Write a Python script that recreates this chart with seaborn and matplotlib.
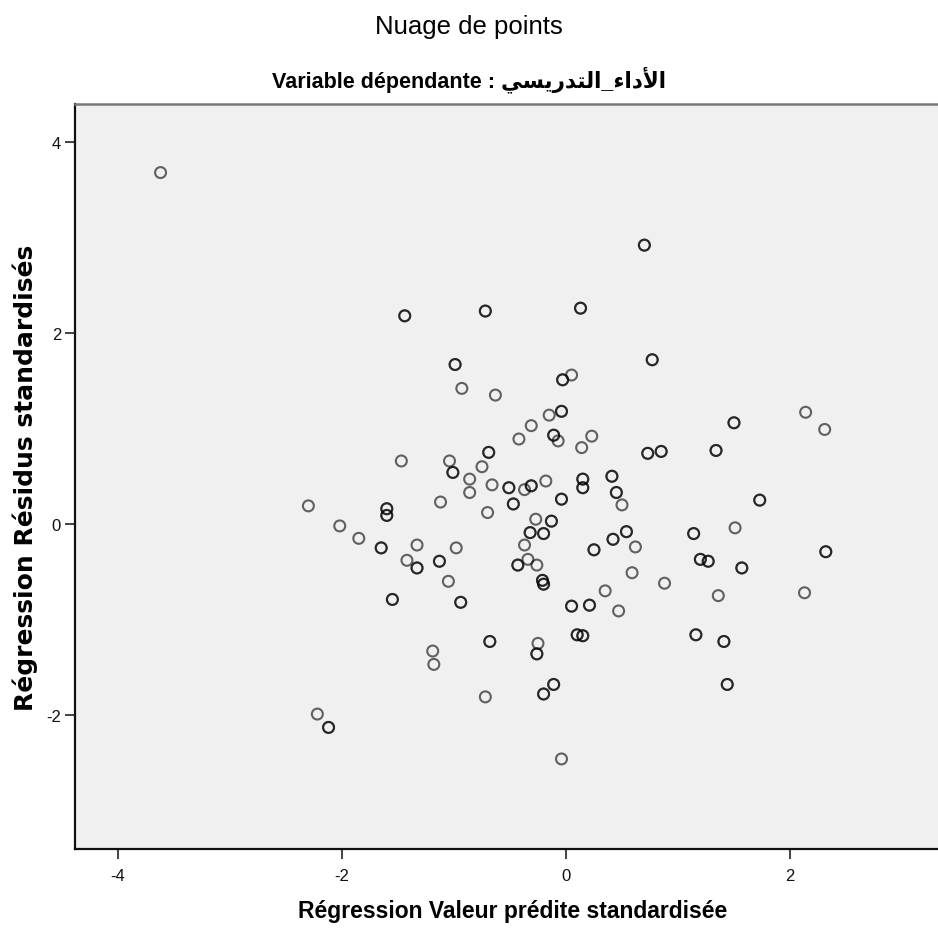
import matplotlib
matplotlib.use("Agg")
import matplotlib.pyplot as plt
import seaborn as sns
import numpy as np
import pandas as pd

# Valeurs (SPSS). "overlap" = 2 quand le cercle est plus foncé (points superposés)
pred_std = [-3.62, 0.70, -1.44, -0.72, 0.13, 0.77, -0.99, -0.93, -0.63, -0.03,
            0.05, -0.04, -0.15, -0.31, -0.42, -0.11, -0.07, 0.14, 0.23, 0.73,
            0.85, 1.50, 2.14, 2.31, 1.34, -1.47, -1.04, -1.01, -0.69, -0.75,
            -0.86, -0.86, -0.66, -0.51, -0.37, -0.31, -0.18, -0.47, -0.04, 0.15,
            0.15, 0.41, 0.45, 0.50, 1.73, -2.30, -1.60, -1.60, -1.12, -0.70,
            -2.02, -1.85, -1.65, -1.33, -1.42, -1.33, -1.13, -0.98, -1.05, -0.27,
            -0.13, -0.32, -0.20, -0.37, -0.34, -0.43, -0.26, -0.21, -0.20, -1.55,
            -0.94, 0.05, 0.54, 0.42, 0.25, 0.62, 0.59, 0.88, 0.35, 0.21,
            0.47, 1.14, 1.51, 1.20, 1.27, 1.57, 2.32, 1.36, 2.13, -0.68,
            -1.19, -1.18, -0.25, -0.26, 0.10, 0.15, -0.11, -0.20, -0.72, -2.22,
            -2.12, -0.04, 1.16, 1.41, 1.44]
resid_std = [3.68, 2.92, 2.18, 2.23, 2.26, 1.72, 1.67, 1.42, 1.35, 1.51,
             1.56, 1.18, 1.14, 1.03, 0.89, 0.93, 0.87, 0.80, 0.92, 0.74,
             0.76, 1.06, 1.17, 0.99, 0.77, 0.66, 0.66, 0.54, 0.75, 0.60,
             0.47, 0.33, 0.41, 0.38, 0.36, 0.40, 0.45, 0.21, 0.26, 0.47,
             0.38, 0.50, 0.33, 0.20, 0.25, 0.19, 0.16, 0.09, 0.23, 0.12,
             -0.02, -0.15, -0.25, -0.22, -0.38, -0.46, -0.39, -0.25, -0.60, 0.05,
             0.03, -0.09, -0.10, -0.22, -0.37, -0.43, -0.43, -0.59, -0.63, -0.79,
             -0.82, -0.86, -0.08, -0.16, -0.27, -0.24, -0.51, -0.62, -0.70, -0.85,
             -0.91, -0.10, -0.04, -0.37, -0.39, -0.46, -0.29, -0.75, -0.72, -1.23,
             -1.33, -1.47, -1.25, -1.36, -1.16, -1.17, -1.68, -1.78, -1.81, -1.99,
             -2.13, -2.46, -1.16, -1.23, -1.68]
overlap = [1, 2, 2, 2, 2, 2, 2, 1, 1, 2,
           1, 2, 1, 1, 1, 2, 1, 1, 1, 2,
           2, 2, 1, 1, 2, 1, 1, 2, 2, 1,
           1, 1, 1, 2, 1, 2, 1, 2, 2, 2,
           2, 2, 2, 1, 2, 1, 2, 2, 1, 1,
           1, 1, 2, 1, 1, 2, 2, 1, 1, 1,
           2, 2, 2, 1, 1, 2, 1, 2, 2, 2,
           2, 2, 2, 2, 2, 1, 1, 1, 1, 2,
           1, 2, 1, 2, 2, 2, 2, 1, 1, 2,
           1, 1, 1, 2, 2, 2, 2, 2, 1, 1,
           2, 1, 2, 2, 2]

x_ticks = [-4, -2, 0, 2]
y_ticks = [-2, 0, 2, 4]

title = "Nuage de points"
dep_prefix = "Variable dépendante : "
dep_var = "الأداء_التدريسي"
x_label = "Régression Valeur prédite standardisée"
y_label = "Régression Résidus standardisés"

# formes contextuelles (isolée, finale, initiale, médiane) pour les lettres utilisées
FORMS = {
    'ا': ('\uFE8D', '\uFE8E', None, None),
    'أ': ('\uFE83', '\uFE84', None, None),
    'د': ('\uFEA9', '\uFEAA', None, None),
    'ر': ('\uFEAD', '\uFEAE', None, None),
    'ء': ('\uFE80', None, None, None),
    'ل': ('\uFEDD', '\uFEDE', '\uFEDF', '\uFEE0'),
    'ت': ('\uFE95', '\uFE96', '\uFE97', '\uFE98'),
    'ي': ('\uFEF1', '\uFEF2', '\uFEF3', '\uFEF4'),
    'س': ('\uFEB1', '\uFEB2', '\uFEB3', '\uFEB4'),
}
LAM_ALEF = {'ا': ('\uFEFB', '\uFEFC', None, None), 'أ': ('\uFEF7', '\uFEF8', None, None)}


def shape_arabic(text):
    # matplotlib ne fait ni la liaison ni le sens droite-gauche
    tokens = []
    i = 0
    while i < len(text):
        ch = text[i]
        if ch == 'ل' and i + 1 < len(text) and text[i + 1] in LAM_ALEF:
            tokens.append(LAM_ALEF[text[i + 1]])
            i += 2
            continue
        tokens.append(FORMS.get(ch, (ch, None, None, None)))
        i += 1
    out = []
    for k, f in enumerate(tokens):
        prev = tokens[k - 1] if k > 0 else None
        nxt = tokens[k + 1] if k + 1 < len(tokens) else None
        jp = prev is not None and prev[2] is not None and f[1] is not None
        jn = nxt is not None and f[2] is not None and nxt[1] is not None
        if jp and jn:
            out.append(f[3])
        elif jp:
            out.append(f[1])
        elif jn:
            out.append(f[2])
        else:
            out.append(f[0])
    return ''.join(reversed(out))


df = pd.DataFrame({'pred': pred_std, 'resid': resid_std, 'n': overlap})
df = df.loc[df.index.repeat(df['n'])]

sns.set_style("white")
plt.rcParams['font.family'] = ['Liberation Sans', 'DejaVu Sans']
plt.rcParams['axes.unicode_minus'] = False
plt.rcParams['text.color'] = 'black'
plt.rcParams['axes.labelcolor'] = 'black'

fig = plt.figure(figsize=(9.38, 9.45), dpi=100)
ax = fig.add_axes([75 / 938, 95 / 945, 875 / 938, 745 / 945])
ax.set_facecolor('#f0f0f0')

sns.scatterplot(data=df, x='pred', y='resid', ax=ax, marker='o', s=62,
                facecolor='none', edgecolor='black', linewidth=1.5, alpha=0.6)

ax.set_xlim(-4.384, 3.429)
ax.set_ylim(-3.403, 4.398)
ax.set_xticks(x_ticks)
ax.set_yticks(y_ticks)
ax.tick_params(axis='both', bottom=True, left=True, direction='out', length=7,
               width=1.2, color='#222222', labelsize=12, labelcolor='#111111')
ax.tick_params(axis='x', pad=7)
ax.tick_params(axis='y', pad=3)

for side in ['left', 'bottom']:
    ax.spines[side].set_color('#111111')
    ax.spines[side].set_linewidth(1.6)
ax.spines['top'].set_color('#777777')
ax.spines['top'].set_linewidth(1.8)
ax.spines['right'].set_visible(False)

ax.set_xlabel(x_label, fontsize=16.5, fontweight='bold', labelpad=11)
ax.set_ylabel(y_label, fontsize=18, fontweight='bold', labelpad=6,
              family=['DejaVu Sans'])

fig.text(0.5, 1 - 27 / 945, title, ha='center', va='center', fontsize=18.5)
fig.text(0.5, 1 - 80 / 945, dep_prefix + shape_arabic(dep_var), ha='center',
         va='center', fontsize=15.5, fontweight='bold')

plt.savefig('out.png', dpi=100)
plt.close()
